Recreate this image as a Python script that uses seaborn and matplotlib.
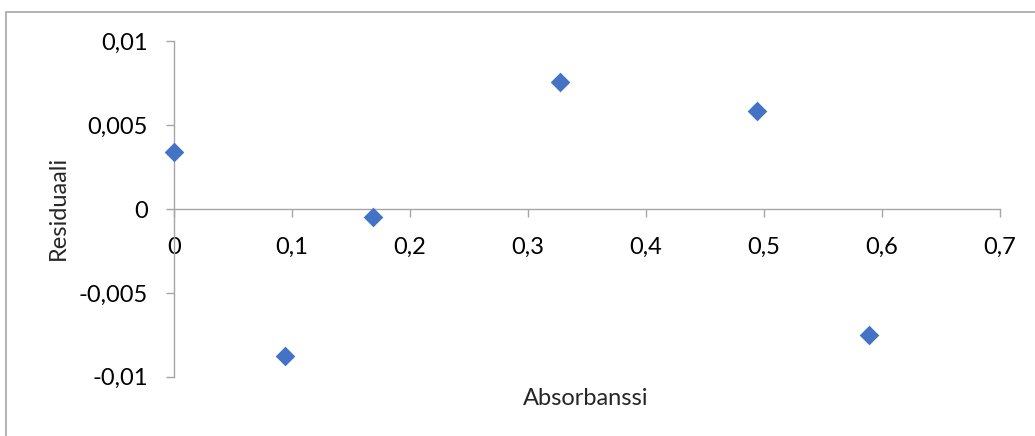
import numpy as np
import pandas as pd
import matplotlib
matplotlib.use("Agg")
import matplotlib.pyplot as plt
from matplotlib.ticker import FuncFormatter, MultipleLocator
from matplotlib.patches import Rectangle
import seaborn as sns

# Residual data
absorbanssi = [0.0, 0.094, 0.169, 0.327, 0.494, 0.589]
residuaali = [0.0034, -0.00875, -0.00048, 0.00757, 0.00583, -0.00753]

df = pd.DataFrame({"Absorbanssi": absorbanssi, "Residuaali": residuaali})

sns.set_style("white")
plt.rcParams["font.family"] = ["Lato", "DejaVu Sans"]

AXIS_GREY = "#a6a6a6"
MARKER_BLUE = "#4472c4"


def comma_fmt(v, pos=None):
    if abs(v) < 1e-12:
        return "0"
    return f"{v:g}".replace(".", ",")


fig = plt.figure(figsize=(10.35, 4.36), dpi=100)
ax = fig.add_axes([174 / 1035, (436 - 376.7) / 436, 826 / 1035, 335.4 / 436])

sns.scatterplot(data=df, x="Absorbanssi", y="Residuaali", ax=ax,
                marker="D", s=100, color=MARKER_BLUE, linewidth=0,
                clip_on=False, zorder=3)

ax.set_xlim(0, 0.7)
ax.set_ylim(-0.01, 0.01)
ax.xaxis.set_major_locator(MultipleLocator(0.1))
ax.yaxis.set_major_locator(MultipleLocator(0.005))
ax.xaxis.set_major_formatter(FuncFormatter(comma_fmt))
ax.yaxis.set_major_formatter(FuncFormatter(comma_fmt))

# Excel-like axes: x axis crosses at zero
for side in ["top", "right"]:
    ax.spines[side].set_visible(False)
ax.spines["bottom"].set_position(("data", 0))
for side in ["left", "bottom"]:
    ax.spines[side].set_color(AXIS_GREY)
    ax.spines[side].set_linewidth(1.0)

ax.tick_params(axis="both", which="major", direction="out", length=5.8,
               width=1.0, color=AXIS_GREY, labelsize=17, labelcolor="black",
               bottom=True, left=True)
ax.tick_params(axis="x", pad=14)
ax.tick_params(axis="y", pad=13)

ax.set_xlabel("Absorbanssi", fontsize=17, va="center")
ax.set_ylabel("Residuaali", fontsize=17, va="center")
ax.xaxis.set_label_coords((586 - 174) / 826, (376.7 - 398) / 335.4)
ax.yaxis.set_label_coords((58 - 174) / 826, (376.7 - 208) / 335.4)

# chart area border (open on the right and bottom, like the cropped original)
fig.patches.append(Rectangle((6 / 1035, -0.1), 1.2, (436 - 12) / 436 + 0.1,
                             transform=fig.transFigure, fill=False,
                             edgecolor=AXIS_GREY, linewidth=1.2))

fig.savefig("out.png", dpi=100)
